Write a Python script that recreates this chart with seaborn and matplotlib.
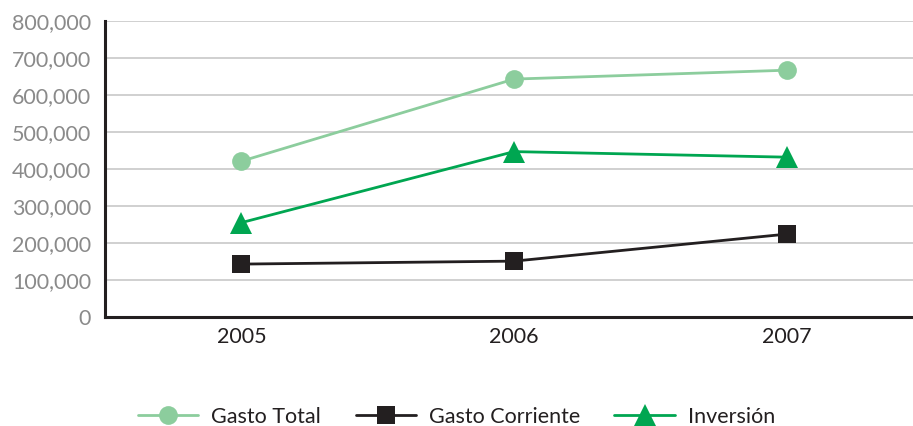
import matplotlib
matplotlib.use("Agg")
import matplotlib.pyplot as plt
import seaborn as sns
import pandas as pd
from matplotlib.ticker import FuncFormatter, FixedLocator

# Spending series by year
years = ["2005", "2006", "2007"]
gasto_total = [421000, 643000, 667000]
gasto_corriente = [143000, 151000, 224000]
inversion = [255000, 447000, 432000]
series_names = ["Gasto Total", "Gasto Corriente", "Inversión"]
y_ticks = [0, 100000, 200000, 300000, 400000, 500000, 600000, 700000, 800000]

df = pd.DataFrame({
    "year": years * 3,
    "value": gasto_total + gasto_corriente + inversion,
    "serie": [s for s in series_names for _ in years],
})

sns.set_style("white")
plt.rcParams["font.family"] = ["Lato", "DejaVu Sans"]

colors = {"Gasto Total": "#8ccd9d", "Gasto Corriente": "#231f20", "Inversión": "#00a651"}
markers = {"Gasto Total": "o", "Gasto Corriente": "s", "Inversión": "^"}
sizes = {"Gasto Total": 13.5, "Gasto Corriente": 12.5, "Inversión": 15.5}

fig = plt.figure(figsize=(9.13, 4.26), dpi=100)
ax = fig.add_axes([105 / 913, 109 / 426, 818 / 913, 296 / 426])

for name in series_names:
    sub = df[df["serie"] == name]
    sns.lineplot(data=sub, x="year", y="value", ax=ax, color=colors[name],
                 marker=markers[name], markersize=sizes[name], markeredgewidth=0,
                 linewidth=2.0, label=name, sort=False)

ax.set_xlim(-0.5, 2.5)
ax.set_ylim(0, 800000)
ax.set_yticks(y_ticks)
ax.yaxis.set_major_formatter(FuncFormatter(lambda v, p: f"{int(v):,}"))
ax.grid(axis="y", color="#c8c8c8", linewidth=1.2)
ax.set_axisbelow(True)
ax.set_xlabel("")
ax.set_ylabel("")

for s in ["top", "right"]:
    ax.spines[s].set_visible(False)
for s in ["left", "bottom"]:
    ax.spines[s].set_color("#231f20")
    ax.spines[s].set_linewidth(2.2)

ax.tick_params(axis="y", length=0, labelsize=15.5, labelcolor="#8a8a8a", pad=10)
ax.tick_params(axis="x", which="major", length=0, labelsize=15.5, labelcolor="#231f20", pad=7)
ax.xaxis.set_minor_locator(FixedLocator([0.5, 1.5]))
ax.tick_params(axis="x", which="minor", length=6, width=0.8, color="#b0b0b0", direction="out")

ax.legend(loc="center", bbox_to_anchor=(0.500, 0.022), bbox_transform=fig.transFigure,
          ncol=3, frameon=False, fontsize=15.5, handlelength=2.8, handletextpad=0.6,
          columnspacing=1.6, labelcolor="#231f20")

fig.savefig("out.png", dpi=100)
